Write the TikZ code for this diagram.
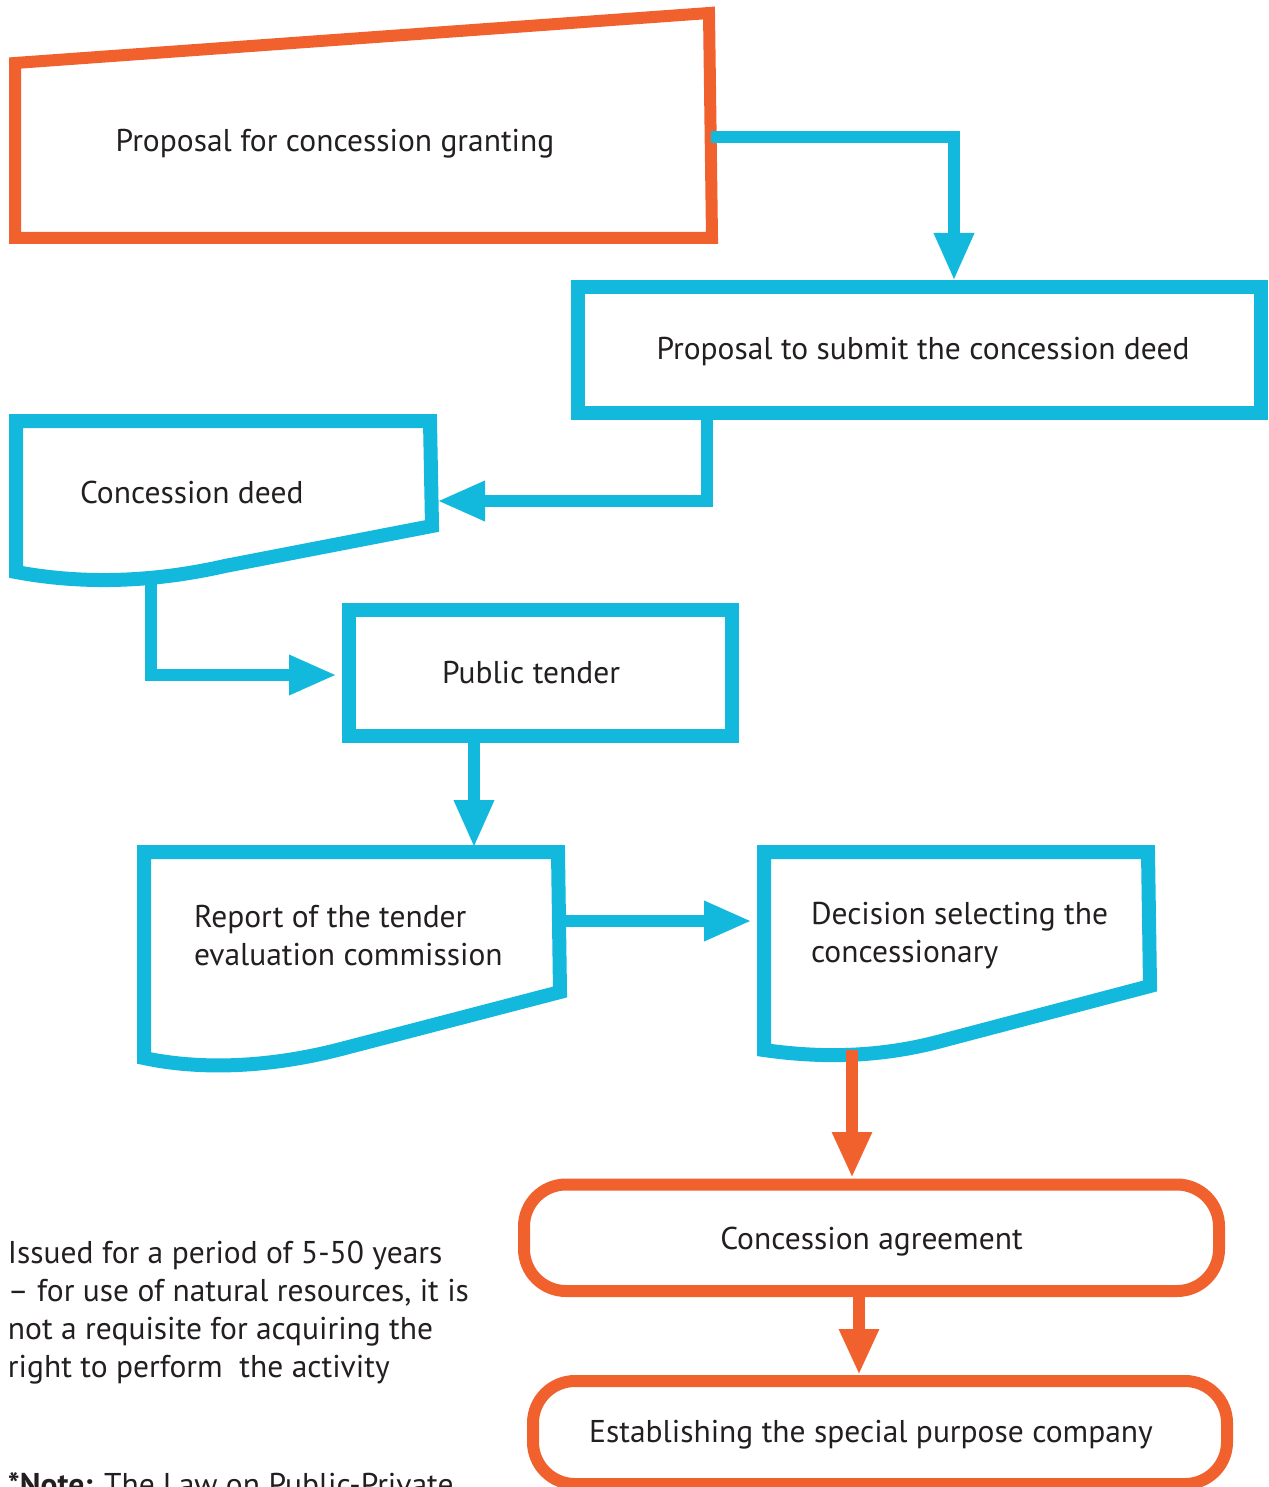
\documentclass[tikz,border=0pt]{standalone}
\usepackage{fontspec}
\setmainfont{PT Sans}
\usetikzlibrary{arrows.meta}
\definecolor{cblue}{HTML}{12B9DD}
\definecolor{corange}{HTML}{F1612D}
\definecolor{ctext}{HTML}{231F20}
\begin{document}
\begin{tikzpicture}[x=1pt,y=-1pt,
  bluebox/.style={draw=cblue,line width=14pt},
  orangebox/.style={draw=corange,line width=12pt},
  blueline/.style={draw=cblue,line width=12pt,-{Triangle[length=48pt,width=37pt]}},
  orangeline/.style={draw=corange,line width=12pt,-{Triangle[length=46pt,width=37pt]}},
  lbl/.style={text=ctext,font=\fontsize{31.5}{38}\selectfont,inner sep=0pt,outer sep=0pt},
]
\useasboundingbox (0,0) rectangle (1268,1487);
\clip (0,0) rectangle (1268,1487);

% 1 manual input (orange)
\draw[orangebox] (15,63) -- (709,13) -- (712,238) -- (15,238) -- cycle;
\node[lbl,anchor=base] (grantT) at (335,152) {Proposal for concession granting};
\coordinate (grantR) at (711,137.5);

% 2 proposal to submit
\node[bluebox,minimum width=683.5pt,minimum height=125pt,inner sep=0pt] (submit) at (919.25,350) {};
\node[lbl,anchor=base] (submitT) at (923,359) {Proposal to submit the concession deed};
\coordinate (submitIn) at (954,281);
\coordinate (submitOut) at (707,412);

% 3 concession deed (document)
\draw[bluebox] (16,421) -- (430,421) -- (432,526) -- (225,566)
  .. controls (150,583) and (80,584) .. (16,572) -- cycle;
\node[lbl,anchor=base west] (deedT) at (80,503) {Concession deed};
\coordinate (deedIn) at (437,501);
\coordinate (deedOut) at (151,576);

% 4 public tender
\node[bluebox,minimum width=383pt,minimum height=126pt,inner sep=0pt] (tender) at (540.5,673) {};
\node[lbl,anchor=base] (tenderT) at (531,683) {Public tender};
\coordinate (tenderIn) at (337,675);
\coordinate (tenderOut) at (474,736);

% 5 report (document)
\draw[bluebox] (144,852) -- (558,852) -- (560,992) -- (345,1048)
  .. controls (270,1068) and (200,1070) .. (144,1058) -- cycle;
\node[lbl,anchor=base west,align=left] (reportT) at (194,965) {Report of the tender\\evaluation commission};
\coordinate (reportIn) at (474,848);
\coordinate (reportOut) at (560,921);

% 6 decision (document)
\draw[bluebox] (764,852) -- (1148,852) -- (1150,986) -- (945,1040)
  .. controls (880,1058) and (820,1058) .. (764,1050) -- cycle;
\node[lbl,anchor=base west,align=left] (decT) at (811,962) {Decision selecting the\\concessionary};
\coordinate (decIn) at (752,921);
\coordinate (decOut) at (852,1050);

% 7 concession agreement
\node[orangebox,rounded corners=42pt,minimum width=695pt,minimum height=106.5pt,inner sep=0pt] (agree) at (871.5,1237.75) {};
\node[lbl,anchor=base] (agreeT) at (871.5,1249) {Concession agreement};
\coordinate (agreeIn) at (852,1178);
\coordinate (agreeOut) at (859,1291);

% 8 establishing
\node[orangebox,rounded corners=42pt,minimum width=694pt,minimum height=103pt,inner sep=0pt] (est) at (880,1432.5) {};
\node[lbl,anchor=base] (estT) at (871,1442) {Establishing the special purpose company};
\coordinate (estIn) at (859,1375);

% side text
\node[lbl,anchor=base west,align=left] (issued) at (8,1377) {Issued for a period of 5-50 years\\– for use of natural resources, it is\\not a requisite for acquiring the\\right to perform\ \ the activity};
\node[lbl,anchor=base west] (note) at (8,1495) {\textbf{*Note:} The Law on Public-Private};

% connectors
\draw[blueline] (grantR) -| (submitIn);
\draw[blueline] (submitOut) |- (deedIn);
\draw[blueline] (deedOut) |- (tenderIn);
\draw[blueline] (tenderOut) -- (reportIn);
\draw[blueline] (reportOut) -- (decIn);
\draw[orangeline] (decOut) -- (agreeIn);
\draw[orangeline] (agreeOut) -- (estIn);
\end{tikzpicture}
\end{document}
